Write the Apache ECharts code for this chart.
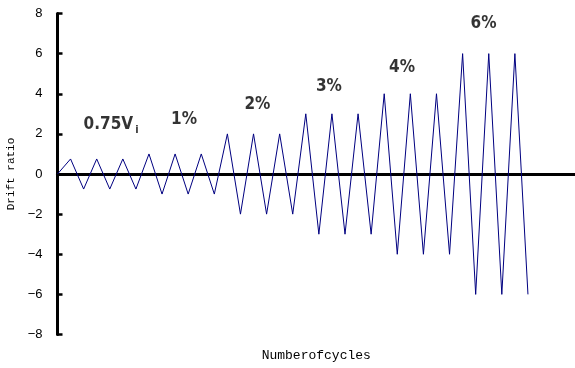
<!DOCTYPE html>
<html>
<head>
<meta charset="utf-8">
<script src="https://cdn.jsdelivr.net/npm/echarts@6/dist/echarts.min.js"></script>
<style>
  html, body { margin: 0; padding: 0; background: #fff; }
  #chart { width: 575px; height: 368px; }
</style>
</head>
<body>
<div id="chart"></div>
<script>
// Loading protocol: drift-ratio amplitude of each half cycle, one point per step
const steps = [0,1,2,3,4,5,6,7,8,9,10,11,12,13,14,15,16,17,18,19,20,21,22,23,24,25,26,27,28,29,30,31,32,33,34,35,36];
const drift = [0,
  0.75,-0.75,0.75,-0.75,0.75,-0.75,
  1,-1,1,-1,1,-1,
  2,-2,2,-2,2,-2,
  3,-3,3,-3,3,-3,
  4,-4,4,-4,4,-4,
  6,-6,6,-6,6,-6];

// Stage labels and where they sit (data coordinates)
const stageText = ['0.75V{sub|i}', '1%', '2%', '3%', '4%', '6%'];
const stageX = [4.1, 9.68, 15.3, 20.77, 26.36, 32.6];
const stageY = [2.45, 2.7, 3.475, 4.35, 5.325, 7.475];

// Y axis ticks
const yMin = -8, yMax = 8, yStep = 2;

const chart = echarts.init(document.getElementById('chart'), null, { renderer: 'canvas' });

const mono = '"Liberation Mono", "DejaVu Sans Mono", monospace';
const narrow = '"DejaVu Sans Condensed", "Liberation Sans", sans-serif';

chart.setOption({
  animation: false,
  backgroundColor: '#ffffff',
  grid: { left: 57.5, right: 0, top: 13.5, bottom: 33.5, containLabel: false, outerBoundsMode: 'none' },
  xAxis: [
    {
      type: 'value', min: 0, max: 39.6,
      axisLine: { onZero: true, lineStyle: { color: '#000', width: 3 } },
      axisTick: { show: false }, axisLabel: { show: false }, splitLine: { show: false }
    },
    {
      type: 'value', min: 0, max: 39.6, position: 'bottom',
      axisLine: { show: false, onZero: false }, axisTick: { show: false },
      axisLabel: { show: false }, splitLine: { show: false },
      name: 'Numberofcycles', nameLocation: 'middle', nameGap: 15,
      nameTextStyle: { fontFamily: mono, fontSize: 13, color: '#000' }
    }
  ],
  yAxis: {
    type: 'value', min: yMin, max: yMax, interval: yStep,
    axisLine: { show: true, lineStyle: { color: '#000', width: 3 } },
    axisTick: { show: true, inside: true, length: 5, lineStyle: { color: '#000', width: 2.5 } },
    axisLabel: {
      margin: 15, fontFamily: '"Liberation Sans", sans-serif', fontSize: 13, color: '#000',
      formatter: v => (v < 0 ? '\u2212' + Math.abs(v) : String(v))
    },
    splitLine: { show: false },
    name: 'Drift ratio', nameLocation: 'middle', nameGap: 41, nameRotate: 90,
    nameTextStyle: { fontFamily: mono, fontSize: 11, color: '#000' }
  },
  series: [
    {
      type: 'line',
      data: steps.map((s, i) => [s, drift[i]]),
      smooth: false,
      showSymbol: false, symbol: 'none',
      lineStyle: { color: '#000080', width: 1 },
      z: 3
    },
    {
      type: 'scatter',
      symbolSize: 0,
      data: stageX.map((x, i) => ({ value: [x, stageY[i]], name: stageText[i] })),
      label: {
        show: true, position: 'inside',
        formatter: p => p.name,
        fontFamily: narrow, fontWeight: 'bold', fontSize: 17, color: '#000',
        textBorderWidth: 0,
        rich: {
          sub: { fontFamily: narrow, fontWeight: 'bold', fontSize: 11, color: '#000', textBorderWidth: 0, verticalAlign: 'bottom', padding: [10, 0, 0, 2] }
        }
      },
      silent: true,
      z: 4
    }
  ]
});
</script>
</body>
</html>
